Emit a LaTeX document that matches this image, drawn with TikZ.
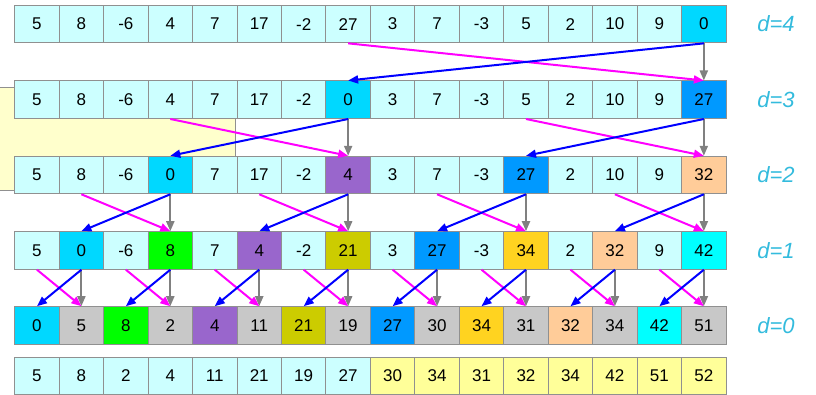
\documentclass[tikz,border=0pt]{standalone}
\usepackage{fontspec}
\setmainfont{Liberation Sans}
\usetikzlibrary{arrows.meta}
\definecolor{lc}{HTML}{CCFFFF}
\definecolor{bd}{HTML}{909090}
\definecolor{cz}{HTML}{00D8FF}
\definecolor{cb}{HTML}{0099FF}
\definecolor{cp}{HTML}{9966CC}
\definecolor{cpe}{HTML}{FFCC99}
\definecolor{cg}{HTML}{00FF00}
\definecolor{co}{HTML}{CCCC00}
\definecolor{cgo}{HTML}{FFD320}
\definecolor{cc}{HTML}{00FFFF}
\definecolor{cgr}{HTML}{C8C8C8}
\definecolor{cy}{HTML}{FFFF99}
\definecolor{bgy}{HTML}{FFFFCC}
\definecolor{lbl}{HTML}{33BBDD}
\definecolor{garrc}{HTML}{808080}
\definecolor{mg}{RGB}{255,0,255}
\definecolor{bl}{RGB}{0,0,255}
\begin{document}
\begin{tikzpicture}[x=1pt,y=-1pt,
  cell/.style={draw=bd, line width=1pt, minimum width=44.46pt, minimum height=37.5pt,
    inner sep=0pt, font=\fontsize{17}{17}\selectfont, text=black},
  dlabel/.style={font=\fontsize{22}{22}\selectfont\itshape, text=lbl},
  arr/.style={line width=2pt, -{Triangle[length=10pt,width=8pt]}},
  garr/.style={arr, draw=garrc, fill=garrc},
  barr/.style={arr, draw=bl, fill=bl},
  marr/.style={arr, draw=mg, fill=mg}]
\useasboundingbox (0,0) rectangle (816,395);
\path[fill=bgy, draw=bd, line width=1pt] (-5,87.5) rectangle (235,191);
% d=4
\foreach \v/\c [count=\i from 0] in {5/lc,8/lc,-6/lc,4/lc,7/lc,17/lc,-2/lc,27/lc,3/lc,7/lc,-3/lc,5/lc,2/lc,10/lc,9/lc,0/cz}
  \node[cell, fill=\c] (r4-\i) at ({14.7+44.46*(\i+0.5)}, 24.1) {\v};
% d=3
\foreach \v/\c [count=\i from 0] in {5/lc,8/lc,-6/lc,4/lc,7/lc,17/lc,-2/lc,0/cz,3/lc,7/lc,-3/lc,5/lc,2/lc,10/lc,9/lc,27/cb}
  \node[cell, fill=\c] (r3-\i) at ({14.7+44.46*(\i+0.5)}, 99.75) {\v};
% d=2
\foreach \v/\c [count=\i from 0] in {5/lc,8/lc,-6/lc,0/cz,7/lc,17/lc,-2/lc,4/cp,3/lc,7/lc,-3/lc,27/cb,2/lc,10/lc,9/lc,32/cpe}
  \node[cell, fill=\c] (r2-\i) at ({14.7+44.46*(\i+0.5)}, 175.05) {\v};
% d=1
\foreach \v/\c [count=\i from 0] in {5/lc,0/cz,-6/lc,8/cg,7/lc,4/cp,-2/lc,21/co,3/lc,27/cb,-3/lc,34/cgo,2/lc,32/cpe,9/lc,42/cc}
  \node[cell, fill=\c] (r1-\i) at ({14.7+44.46*(\i+0.5)}, 250.45) {\v};
% d=0
\foreach \v/\c [count=\i from 0] in {0/cz,5/cgr,8/cg,2/cgr,4/cp,11/cgr,21/co,19/cgr,27/cb,30/cgr,34/cgo,31/cgr,32/cpe,34/cgr,42/cc,51/cgr}
  \node[cell, fill=\c] (r0-\i) at ({14.7+44.46*(\i+0.5)}, 325.45) {\v};
% final
\foreach \v/\c [count=\i from 0] in {5/lc,8/lc,2/lc,4/lc,11/lc,21/lc,19/lc,27/lc,30/cy,34/cy,31/cy,32/cy,34/cy,42/cy,51/cy,52/cy}
  \node[cell, fill=\c] (rf-\i) at ({14.7+44.46*(\i+0.5)}, 376.05) {\v};
% labels
\node[dlabel] (l4) at (776,24.1) {d=4};
\node[dlabel] (l3) at (776,99.75) {d=3};
\node[dlabel] (l2) at (776,175.05) {d=2};
\node[dlabel] (l1) at (776,250.45) {d=1};
\node[dlabel] (l0) at (776,325.45) {d=0};
% arrows
\foreach \a/\b/\l/\r in {r4/r3/7/15,
  r3/r2/3/7, r3/r2/11/15,
  r2/r1/1/3, r2/r1/5/7, r2/r1/9/11, r2/r1/13/15,
  r1/r0/0/1, r1/r0/2/3, r1/r0/4/5, r1/r0/6/7, r1/r0/8/9, r1/r0/10/11, r1/r0/12/13, r1/r0/14/15} {
  \draw[garr] (\a-\r.south) -- (\b-\r.north);
  \draw[marr] (\a-\l.south) -- (\b-\r.north);
  \draw[barr] (\a-\r.south) -- (\b-\l.north);
}
\end{tikzpicture}
\end{document}
